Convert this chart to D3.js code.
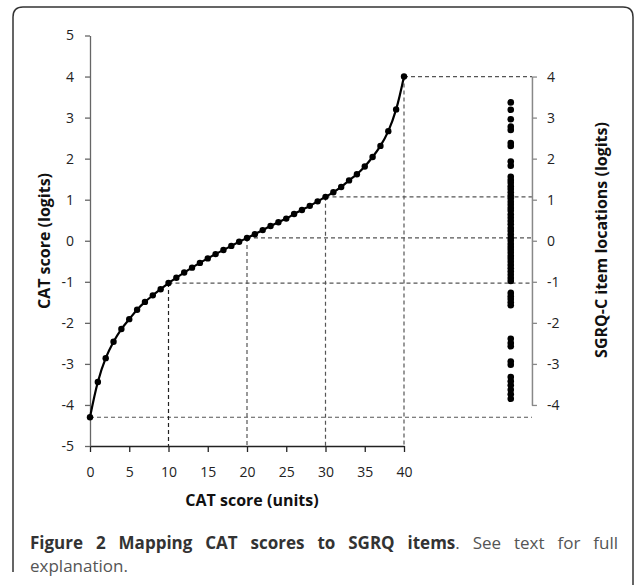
<!DOCTYPE html>
<html>
<head>
<meta charset="utf-8">
<script src="https://cdn.jsdelivr.net/npm/d3@7"></script>
<style>
  body { margin: 0; background: #fff; }
  svg { display: block; font-family: "Open Sans", sans-serif; }
</style>
</head>
<body>
<svg id="chart" width="634" height="585"></svg>
<script>
// CAT raw score (0..40) and its logit location
const catScores = d3.range(0, 41)
const catLogits = [
  -4.30, -3.44, -2.86, -2.46, -2.15, -1.91, -1.68, -1.49, -1.33, -1.18,
  -1.03, -0.90, -0.775, -0.655, -0.54, -0.43, -0.325, -0.225, -0.125, -0.025,
  0.07, 0.16, 0.26, 0.36, 0.45, 0.54, 0.65, 0.75, 0.85, 0.96,
  1.07, 1.18, 1.31, 1.47, 1.62, 1.81, 2.04, 2.31, 2.67, 3.20,
  4.00
]
// SGRQ-C item locations (logits)
const itemLogits = [
  3.37, 3.19, 2.96, 2.78, 2.70, 2.38, 2.31, 1.93, 1.83,
  1.56, 1.48, 1.41, 1.33, 1.26, 1.18, 1.10, 1.03, 0.95, 0.88,
  0.80, 0.73, 0.64, 0.56, 0.48, 0.40, 0.31, 0.24, 0.15, 0.07,
  0.00, -0.08, -0.15, -0.22, -0.29, -0.37, -0.44, -0.51, -0.59, -0.67, -0.75,
  -0.83, -0.91, -0.98,
  -1.27, -1.35, -1.42, -1.50, -1.57,
  -2.39, -2.49, -2.57, -2.94, -3.02,
  -3.32, -3.42, -3.52, -3.63, -3.74, -3.85
]
const guideCats = [0, 10, 20, 30, 40]
const xTicks = [0, 5, 10, 15, 20, 25, 30, 35, 40]
const leftTicks = [-5, -4, -3, -2, -1, 0, 1, 2, 3, 4, 5]
const rightTicks = [-4, -3, -2, -1, 0, 1, 2, 3, 4]

const ITEM_COL = 53.6   // item column, in CAT units
const RIGHT_AXIS = 56.3 // right axis position, in CAT units

const svg = d3.select("#chart")
const plain = function(d) { return String(d) }  // hyphen minus, like the original

// frame
svg.append("path")
  .attr("d", "M13,572 V17 Q13,7 23,7 H623 Q633,7 633,17 V590")
  .attr("fill", "none")
  .attr("stroke", "#333")
  .attr("stroke-width", 1.5)

const x = d3.scaleLinear().domain([0, 40]).range([90, 404])
const y = d3.scaleLinear().domain([-5, 5]).range([446, 35.5])
const yR = d3.scaleLinear().domain([-4, 4]).range([y(-4), y(4)])
const rx = x(RIGHT_AXIS)

// dashed guides
const guides = svg.append("g")
guideCats.forEach(function(c) {
  const v = catLogits[c]
  guides.append("line")
    .attr("x1", x(c)).attr("x2", rx)
    .attr("y1", y(v)).attr("y2", y(v))
    .attr("stroke", "#555").attr("stroke-width", 1.2)
    .attr("stroke-dasharray", "4,3")
  if (c > 0) {
    guides.append("line")
      .attr("x1", x(c)).attr("x2", x(c))
      .attr("y1", y(v)).attr("y2", y(-5))
      .attr("stroke", c === 10 ? "#222" : "#555").attr("stroke-width", 1.2)
      .attr("stroke-dasharray", "4,3")
  }
})

// axes
const xAxis = svg.append("g")
  .attr("transform", "translate(0," + y(-5) + ")")
  .call(d3.axisBottom(x).tickValues(xTicks).tickFormat(plain)
    .tickSize(6).tickSizeOuter(0).tickPadding(15))
xAxis.select(".domain").attr("stroke", "#222").attr("stroke-width", 1.3)
xAxis.selectAll(".tick line").attr("stroke", "#222").attr("stroke-width", 1.3)

const yAxis = svg.append("g")
  .attr("transform", "translate(" + x(0) + ",0)")
  .call(d3.axisLeft(y).tickValues(leftTicks).tickFormat(plain)
    .tickSize(5).tickSizeOuter(0).tickPadding(11))
yAxis.select(".domain").attr("stroke", "#666").attr("stroke-width", 1.3)
yAxis.selectAll(".tick line").attr("stroke", "#666").attr("stroke-width", 1.3)

const rAxis = svg.append("g")
  .attr("transform", "translate(" + rx + ",0)")
  .call(d3.axisRight(yR).tickValues(rightTicks).tickFormat(plain)
    .tickSize(5).tickSizeOuter(0).tickPadding(10))
rAxis.select(".domain").attr("stroke", "#888").attr("stroke-width", 1.5)
rAxis.selectAll(".tick line").attr("stroke", "#888").attr("stroke-width", 1.3)

svg.selectAll(".tick text")
  .attr("font-family", "Open Sans, sans-serif")
  .attr("font-size", 14)
  .attr("fill", "#222")

// curve
const line = d3.line()
  .x(function(d, i) { return x(catScores[i]) })
  .y(function(d) { return y(d) })
  .curve(d3.curveCatmullRom)

svg.append("path")
  .attr("d", line(catLogits))
  .attr("fill", "none")
  .attr("stroke", "#000")
  .attr("stroke-width", 2.2)

svg.append("g").selectAll("circle")
  .data(catLogits)
  .join("circle")
  .attr("cx", function(d, i) { return x(catScores[i]) })
  .attr("cy", function(d) { return y(d) })
  .attr("r", 3.2)
  .attr("fill", "#000")

// item locations
svg.append("g").selectAll("circle")
  .data(itemLogits)
  .join("circle")
  .attr("cx", x(ITEM_COL))
  .attr("cy", function(d) { return y(d) })
  .attr("r", 3.3)
  .attr("fill", "#000")

// axis titles
svg.append("text")
  .attr("transform", "translate(50,241) rotate(-90)")
  .attr("text-anchor", "middle")
  .attr("font-size", 16).attr("font-weight", "bold").attr("fill", "#111")
  .text("CAT score (logits)")

svg.append("text")
  .attr("transform", "translate(607,240) rotate(-90)")
  .attr("text-anchor", "middle")
  .attr("font-size", 16).attr("font-weight", "bold").attr("fill", "#111")
  .text("SGRQ-C item locations (logits)")

svg.append("text")
  .attr("x", 252).attr("y", 506)
  .attr("text-anchor", "middle")
  .attr("font-size", 16).attr("font-weight", "bold").attr("fill", "#111")
  .text("CAT score (units)")

// caption, first line justified word by word between 30 and 618
const capWords = [
  ["Figure", true], ["2", true], ["Mapping", true], ["CAT", true], ["scores", true],
  ["to", true], ["SGRQ", true], ["items", true, ". "], ["See", false], ["text", false],
  ["for", false], ["full", false]
]
const capG = svg.append("g").attr("font-size", 17)
const nodes = capWords.map(function(w) {
  const t = capG.append("text").attr("y", 549)
  t.append("tspan")
    .attr("font-weight", w[1] ? "bold" : "normal")
    .attr("fill", w[1] ? "#333" : "#555")
    .text(w[0])
  if (w[2]) t.append("tspan").attr("fill", "#555").text(".")
  return t
})
const widths = nodes.map(function(t) { return t.node().getComputedTextLength() })
const gap = (588 - d3.sum(widths)) / (nodes.length - 1)
let cx = 30
nodes.forEach(function(t, i) {
  t.attr("x", cx)
  cx += widths[i] + gap
})

svg.append("text")
  .attr("x", 30).attr("y", 572)
  .attr("font-size", 17).attr("fill", "#555")
  .text("explanation.")
</script>
</body>
</html>
